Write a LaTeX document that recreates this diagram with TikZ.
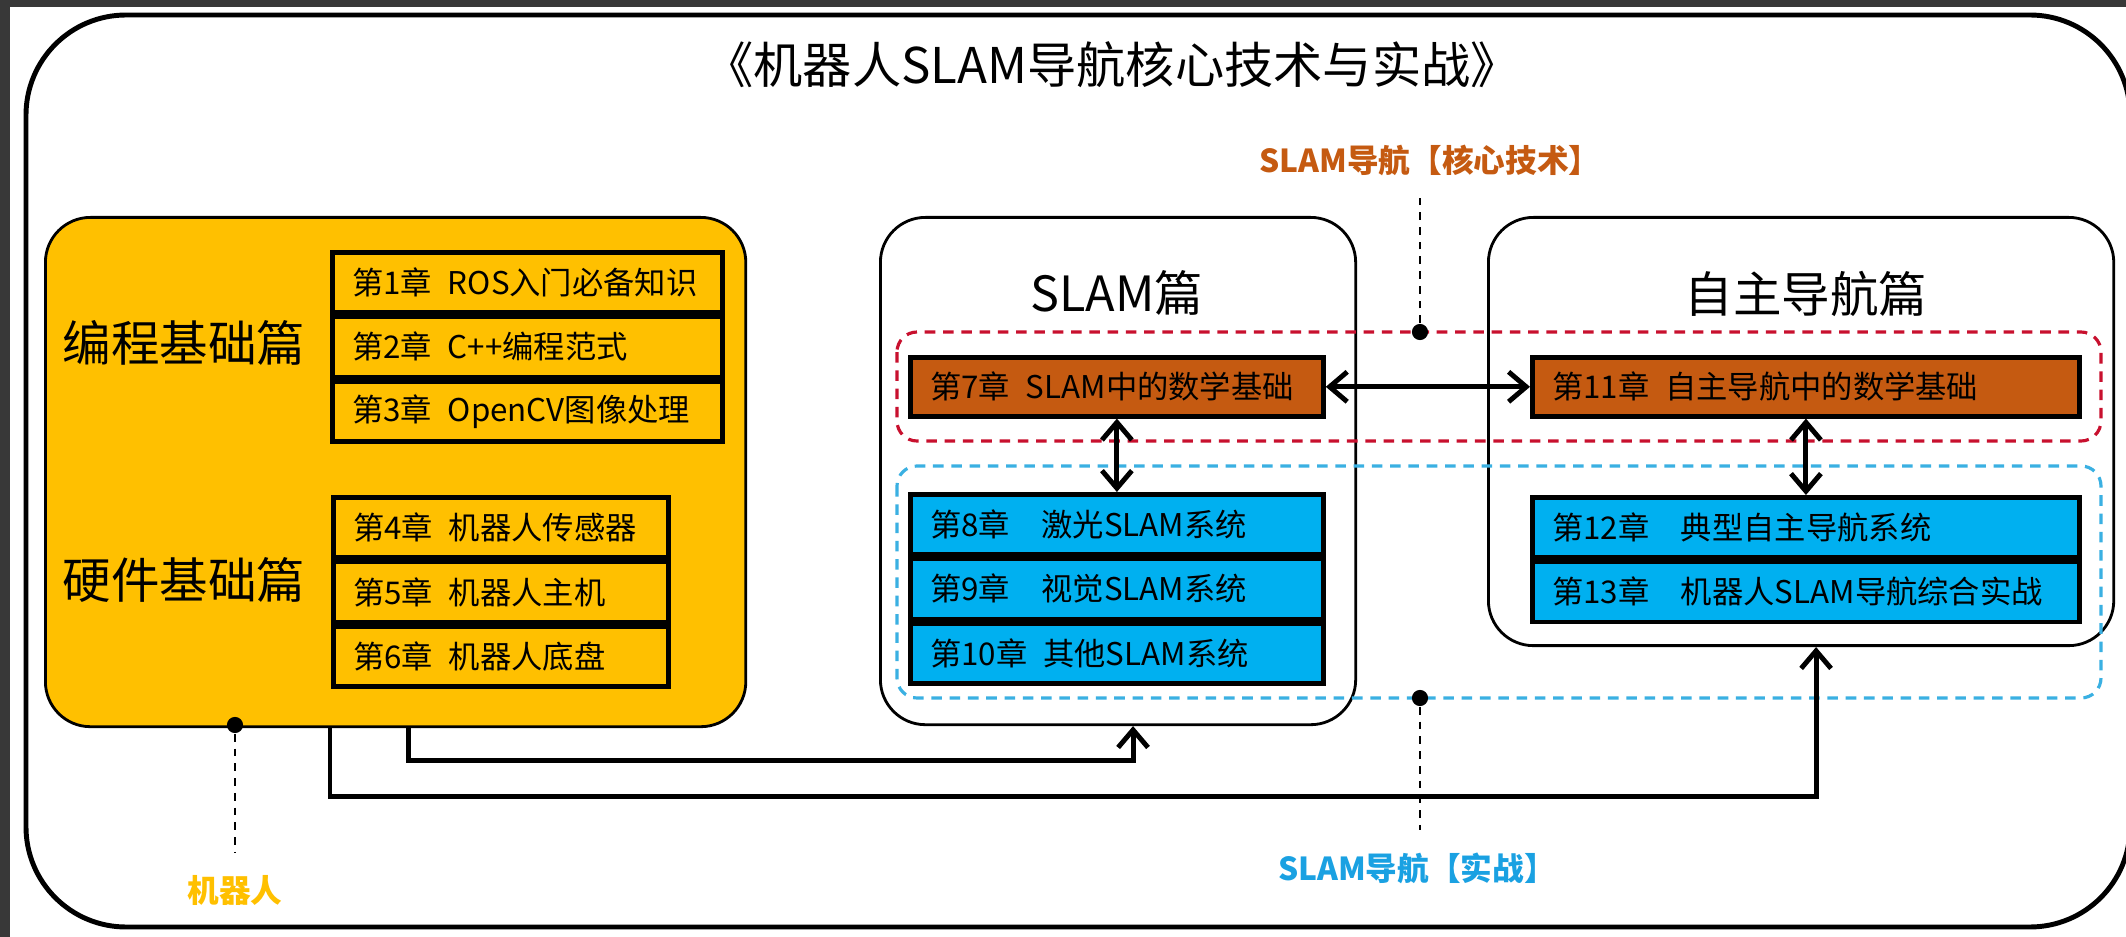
\documentclass[tikz,border=0pt]{standalone}
\usepackage{fontspec}
\setmainfont{Noto Sans CJK SC}
\usepackage{tikz}
\usetikzlibrary{arrows.meta,positioning}
\definecolor{robotyellow}{HTML}{FFC000}
\definecolor{corebrown}{HTML}{C55A11}
\definecolor{practblue}{HTML}{00B0F0}
\definecolor{coreline}{HTML}{C8102E}
\definecolor{practline}{HTML}{3AB0E2}
\definecolor{practtext}{HTML}{1AA1E2}
\definecolor{backgray}{HTML}{383838}

\begin{document}
\begin{tikzpicture}[x=0.01cm,y=-0.01cm,>={Straight Barb[length=5pt,width=8.5pt]},
    panel/.style={draw,line width=0.8pt,rounded corners=0.45cm,anchor=north west,inner sep=0pt},
    chap/.style={draw,line width=1.3pt,anchor=north west,minimum height=0.6cm,inner xsep=0.2cm,inner ysep=0pt,align=left,font=\fontsize{8.9pt}{11pt}\selectfont},
    big/.style={font=\fontsize{13.8pt}{16pt}\selectfont},
    tag/.style={font=\fontsize{9pt}{11pt}\selectfont\bfseries},
    dot/.style={circle,fill=black,inner sep=0pt,minimum size=4.6pt},
    leader/.style={dash pattern=on 2.2pt off 2pt,line width=0.6pt},
    conn/.style={->,line width=1.4pt},
    link/.style={<->,line width=1.4pt}]

  \useasboundingbox (0,0) rectangle (2126,937);
  \fill[white] (0,0) rectangle (2126,937);
  \fill[backgray] (0,0) rectangle (2126,7);
  \fill[backgray] (0,0) rectangle (10,937);
  \draw[line width=1.4pt,rounded corners=1cm] (26,15) rectangle (2130,927);

  \node[font=\fontsize{14pt}{17pt}\selectfont] (title) at (1112,65) {《机器人SLAM导航核心技术与实战》};

  \node[panel,fill=robotyellow,minimum width=7cm,minimum height=5.09cm] (robot) at (44,216) {};
  \node[panel,fill=white,minimum width=4.75cm,minimum height=5.07cm] (slam) at (879,216) {};
  \node[panel,fill=white,minimum width=6.25cm,minimum height=4.28cm] (nav) at (1487,216) {};

  \node[big] (prog) at (184,343) {编程基础篇};
  \node[big] (hw) at (184,580) {硬件基础篇};
  \node[big] (slamtitle) at (1117,293) {SLAM篇};
  \node[big] (navtitle) at (1806,294) {自主导航篇};

  \draw[coreline,line width=0.9pt,dash pattern=on 3pt off 2.2pt,rounded corners=0.2cm] (897,332) rectangle (2101,441);
  \draw[practline,line width=0.9pt,dash pattern=on 3pt off 2.2pt,rounded corners=0.2cm] (897,466) rectangle (2101,698);

  \node[chap,fill=robotyellow,text width=3.5cm] (c1) at (330,250) {\mbox{第1章\hspace{0.5em}ROS入门必备知识}};
  \node[chap,fill=robotyellow,text width=3.5cm] (c2) [below=0pt of c1] {\mbox{第2章\hspace{0.5em}C++编程范式}};
  \node[chap,fill=robotyellow,text width=3.5cm] (c3) [below=0pt of c2] {\mbox{第3章\hspace{0.5em}OpenCV图像处理}};
  \node[chap,fill=robotyellow,text width=2.95cm] (c4) at (331,495) {\mbox{第4章\hspace{0.5em}机器人传感器}};
  \node[chap,fill=robotyellow,text width=2.95cm] (c5) [below=0pt of c4] {\mbox{第5章\hspace{0.5em}机器人主机}};
  \node[chap,fill=robotyellow,text width=2.95cm] (c6) [below=0pt of c5] {\mbox{第6章\hspace{0.5em}机器人底盘}};

  \node[chap,fill=corebrown,text width=3.73cm,minimum height=0.59cm] (c7) at (908,355) {\mbox{第7章\hspace{0.5em}SLAM中的数学基础}};
  \node[chap,fill=practblue,text width=3.73cm] (c8) at (908,492) {\mbox{第8章\hspace{1em}激光SLAM系统}};
  \node[chap,fill=practblue,text width=3.73cm] (c9) [below=0pt of c8] {\mbox{第9章\hspace{1em}视觉SLAM系统}};
  \node[chap,fill=practblue,text width=3.73cm] (c10) [below=0pt of c9] {\mbox{第10章\hspace{0.5em}其他SLAM系统}};

  \node[chap,fill=corebrown,text width=5.07cm,minimum height=0.59cm] (c11) at (1530,355) {\mbox{第11章\hspace{0.5em}自主导航中的数学基础}};
  \node[chap,fill=practblue,text width=5.07cm] (c12) at (1530,495) {\mbox{第12章\hspace{1em}典型自主导航系统}};
  \node[chap,fill=practblue,text width=5.07cm] (c13) [below=0pt of c12] {\mbox{第13章\hspace{1em}机器人SLAM导航综合实战}};

  \node[dot] (d1) at (1420,332) {};
  \node[dot] (d2) at (1420,698) {};
  \node[dot] (d3) at (235,725) {};

  \node[tag,text=corebrown] (core) at (1430,160) {SLAM导航【核心技术】};
  \node[tag,text=practtext] (prac) at (1417,868) {SLAM导航【实战】};
  \node[tag,text=robotyellow] (robolab) at (235,890) {机器人};

  \draw[leader,shorten >=3pt] (d1) -- (d1 |- core.south);
  \draw[leader,shorten >=3pt] (d2) -- (d2 |- prac.north);
  \draw[leader,shorten >=3pt] (d3) -- (robolab.north);

  \draw[link] (c7) -- (c11);
  \draw[link] (c7) -- (c8);
  \draw[link] (c11) -- (c12);
  \draw[conn] ([xshift=0.13cm]robot.south) -- ++(0,32) -| ([xshift=0.15cm]slam.south);
  \draw[conn] (c1.west |- robot.south) -- ++(0,68) -| ([xshift=0.15cm]nav.south);

\end{tikzpicture}
\end{document}
